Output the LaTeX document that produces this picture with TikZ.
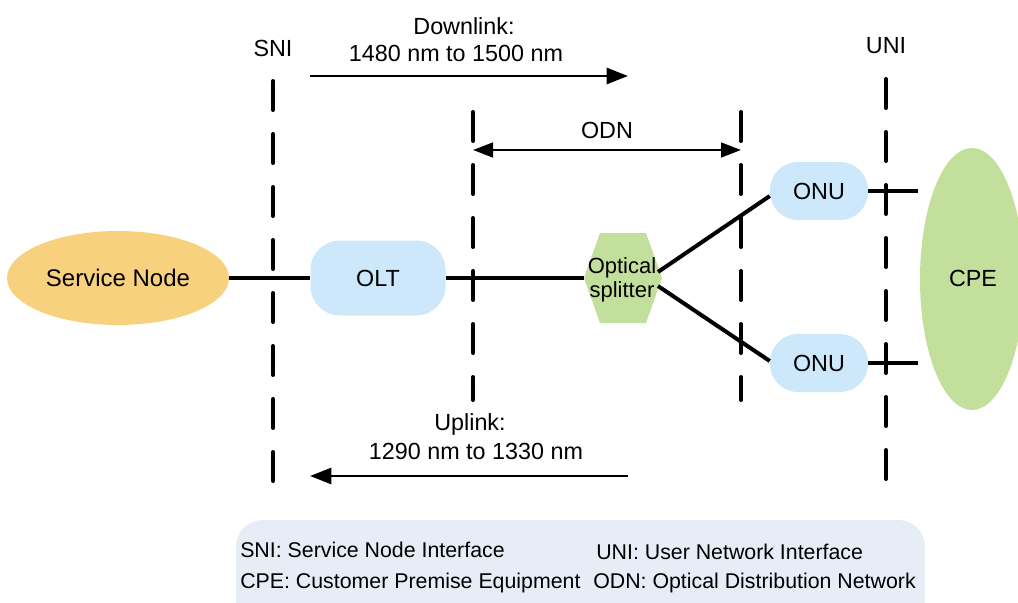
\documentclass[tikz,border=0pt]{standalone}
\usepackage{fontspec}
\setmainfont{Liberation Sans}
\usetikzlibrary{arrows.meta,shapes.geometric}
\definecolor{snorange}{HTML}{F8D17F}
\definecolor{lblue}{HTML}{CCE8FA}
\definecolor{lgreen}{HTML}{C2E09B}
\definecolor{legendbg}{HTML}{E6EDF7}
\tikzset{
  lbl/.style={font=\fontsize{17.5}{20}\selectfont, text=black, align=center},
  box/.style={rounded corners=22pt, fill=lblue, draw=none, font=\fontsize{17.5}{20}\selectfont},
  link/.style={line width=3pt, black},
  divider/.style={line width=3pt, black, line cap=round, dash pattern=on 21.75pt off 18pt},
  flow/.style={line width=2pt, -{Triangle[length=16pt,width=12pt]}},
  legtext/.style={font=\fontsize{16}{18}\selectfont, anchor=west, inner sep=0pt},
}
\begin{document}
\begin{tikzpicture}[x=0.75pt,y=-0.75pt]
\useasboundingbox (0,0) rectangle (1018,603);
% legend background
\fill[legendbg, rounded corners=20pt] (236,520) rectangle (925,640);
% CPE ellipse
\node[ellipse, fill=lgreen, minimum width=104*0.75pt, minimum height=262*0.75pt, inner sep=0pt] (cpe) at (972,279) {};
\node[lbl] (cpetext) at (973,278) {CPE};
% Service node
\node[ellipse, fill=snorange, minimum width=222*0.75pt, minimum height=94*0.75pt, inner sep=0pt, font=\fontsize{18}{21}\selectfont] (sn) at (118,278) {Service Node};
% OLT
\node[box, minimum width=135*0.75pt, minimum height=75*0.75pt, inner sep=0pt] (olt) at (378,278) {OLT};
% ONUs
\node[box, minimum width=98*0.75pt, minimum height=58*0.75pt, inner sep=0pt, rounded corners=21pt] (onu1) at (819,191) {ONU};
\node[box, minimum width=98*0.75pt, minimum height=58*0.75pt, inner sep=0pt, rounded corners=21pt] (onu2) at (819,363) {ONU};
% splitter hexagon
\fill[lgreen] (600,233) -- (646,233) -- (662,278) -- (646,323) -- (600,323) -- (584,278) -- cycle;
\coordinate (spL) at (584,278);
\coordinate (spU) at (658,272);
\coordinate (spD) at (658,286);
\node[lbl, font=\fontsize{16.5}{19}\selectfont, inner sep=0pt] (sp) at (622,280) {Optical\\[-1pt]splitter};
% links
\draw[link] (sn.east) -- (olt.west);
\draw[link] (olt.east) -- (spL);
\draw[link] (spU) -- (onu1.west |- 0,196) ;
\draw[link] (spD) -- (onu2.west |- 0,361);
\coordinate (c1) at (918,191);
\coordinate (c2) at (918,363);
\draw[link] (onu1.east) -- (c1);
\draw[link] (onu2.east) -- (c2);
% dividers
\coordinate (sniT) at (273,81); \coordinate (sniB) at (273,486);
\coordinate (uniT) at (886,79); \coordinate (uniB) at (886,486);
\coordinate (odlT) at (473,112); \coordinate (odlB) at (473,400);
\coordinate (odrT) at (741,112); \coordinate (odrB) at (741,400);
\draw[divider] (sniT) -- (sniB);
\draw[divider] (uniT) -- (uniB);
\draw[divider] (odlT) -- (odlB);
\draw[divider] (odrT) -- (odrB);
\node[lbl] (sni) at (273,48) {SNI};
\node[lbl] (uni) at (886,46) {UNI};
% ODN arrow
\coordinate (odnA) at (473,150); \coordinate (odnB) at (741,150);
\draw[line width=2pt, {Triangle[length=15pt,width=11pt]}-{Triangle[length=15pt,width=11pt]}] (odnA) -- (odnB);
\node[lbl] (odn) at (607,130) {ODN};
% downlink
\coordinate (dA) at (310,76); \coordinate (dB) at (628,76);
\draw[flow] (dA) -- (dB);
\node[lbl] (dl1) at (464,26) {Downlink:};
\node[lbl] (dl2) at (456,53) {1480 nm to 1500 nm};
% uplink
\coordinate (uA) at (628,476); \coordinate (uB) at (310,476);
\draw[flow] (uA) -- (uB);
\node[lbl] (ul1) at (470,424) {Uplink:};
\node[lbl] (ul2) at (476,451) {1290 nm to 1330 nm};
% legend
\node[legtext] (l1) at (240,550) {SNI: Service Node Interface};
\node[legtext] (l2) at (240,583) {CPE: Customer Premise Equipment};
\node[legtext] (l3) at (596,552) {UNI: User Network Interface};
\node[legtext] (l4) at (593,583) {ODN: Optical Distribution Network};
\end{tikzpicture}
\end{document}
